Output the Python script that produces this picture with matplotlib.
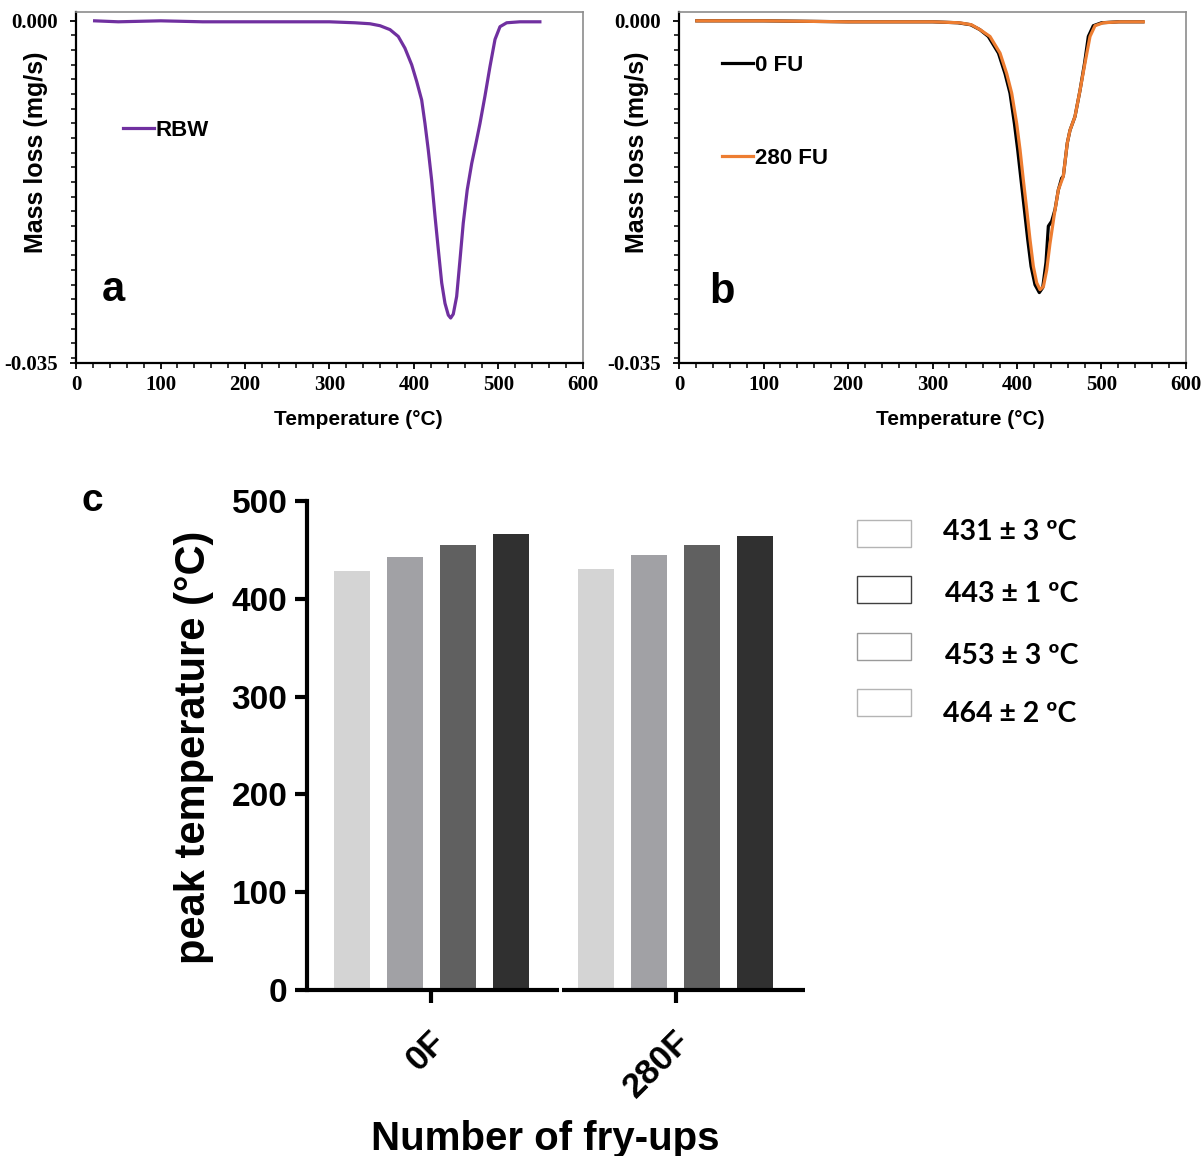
import matplotlib

matplotlib.use("Agg")
import matplotlib.pyplot as plt
import matplotlib.transforms as mtransforms
import numpy as np
from matplotlib.patches import Rectangle
from matplotlib.ticker import MultipleLocator, FixedLocator


SANS = "Liberation Sans"
SERIF = "Liberation Serif"

# panel a: derivative mass loss of RBW (mg/s) against temperature (C)
RBW_TEMP = [22, 50, 100, 150, 200, 250, 300, 330, 347.9, 359.8, 371.6, 381.4, 389.3,
            397.3, 403.2, 409.1, 413, 416.9, 420.9, 424.9, 428.8, 432.8, 436.7, 440.6,
            443.4, 446.5, 450.5, 454.4, 458.3, 463, 468.3, 473.4, 478.1, 484, 489.9,
            495.9, 501.8, 509.7, 525.4, 549]
RBW_LOSS = [0.0000, -0.0001, 0.0000, -0.0001, -0.0001, -0.0001, -0.0001, -0.0002,
            -0.0003, -0.0005, -0.0009, -0.0016, -0.0028, -0.0045, -0.0062, -0.0081,
            -0.0105, -0.0132, -0.0163, -0.0200, -0.0234, -0.0268, -0.0289, -0.0301,
            -0.0304, -0.0300, -0.0282, -0.0245, -0.0207, -0.0173, -0.0146, -0.0125,
            -0.0105, -0.0077, -0.0047, -0.0019, -0.0006, -0.0002, -0.0001, -0.0001]

# panel b: 0 FU and 280 FU
FU0_TEMP = [21, 100, 200, 300, 330, 345, 356, 366, 378, 385.8, 391.7, 396.9, 400.8,
            404.8, 408.7, 412.7, 416.6, 421.3, 426.4, 430.4, 434.3, 437.1, 441, 445,
            448.9, 452.8, 454.8, 459.5, 462.7, 468.6, 474.6, 480, 484.4, 490.3, 500,
            520, 549]
FU0_LOSS = [0.0000, 0.0000, -0.0001, -0.0001, -0.0002, -0.0004, -0.0009, -0.0016,
            -0.0033, -0.0054, -0.0074, -0.0105, -0.0132, -0.0163, -0.0193, -0.0224,
            -0.0251, -0.0270, -0.0278, -0.0273, -0.0247, -0.0210, -0.0205, -0.0193,
            -0.0173, -0.0161, -0.0159, -0.0125, -0.0112, -0.0098, -0.0071, -0.0043,
            -0.0016, -0.0005, -0.0002, -0.0001, -0.0001]
FU280_TEMP = [21, 100, 200, 300, 332, 346, 356.2, 368, 379.9, 387.8, 393.7, 399.6,
              403.6, 407.5, 411.5, 415.4, 419.3, 423.3, 427.2, 431.2, 435.1, 439,
              443.8, 448.9, 454.8, 459.5, 462.7, 468.6, 474.6, 480.5, 486.4, 492.3,
              502.1, 521.9, 549.5]
FU280_LOSS = [0.0000, 0.0000, -0.0001, -0.0001, -0.0002, -0.0004, -0.0009, -0.0016,
              -0.0033, -0.0054, -0.0074, -0.0105, -0.0132, -0.0163, -0.0193, -0.0224,
              -0.0251, -0.0268, -0.0275, -0.0272, -0.0255, -0.0228, -0.0200, -0.0173,
              -0.0159, -0.0125, -0.0112, -0.0098, -0.0071, -0.0043, -0.0016, -0.0005,
              -0.0002, -0.0001, -0.0001]

# panel c: peak temperatures
FRY_GROUPS = ["0F", "280F"]
PEAK_0F = [428, 443, 455, 466]
PEAK_280F = [430, 445, 455, 464]
PEAK_LABELS = ["431 ± 3 ºC", "443 ± 1 ºC", "453 ± 3 ºC", "464 ± 2 ºC"]
BAR_COLORS = ["#d4d4d4", "#a1a1a5", "#606060", "#303030"]
BOX_EDGES = ["#b4b4b4", "#404040", "#9a9a9a", "#b4b4b4"]


def _style_tga(ax):
    ax.set_xlim(0, 600)
    ax.set_ylim(-0.035, 0.0009)
    ax.xaxis.set_major_locator(MultipleLocator(100))
    ax.xaxis.set_minor_locator(MultipleLocator(20))
    ax.yaxis.set_major_locator(FixedLocator([-0.035, 0.0]))
    ax.yaxis.set_minor_locator(FixedLocator(np.arange(0, -0.0351, -0.0015)))
    ax.yaxis.set_major_formatter(plt.FuncFormatter(lambda v, p: f"{v:.3f}"))
    for side in ("left", "bottom"):
        ax.spines[side].set_linewidth(1.6)
        ax.spines[side].set_color("black")
    for side in ("top", "right"):
        ax.spines[side].set_linewidth(1.2)
        ax.spines[side].set_color("#8c8c8c")
    ax.tick_params(which="major", direction="out", length=4, width=1.3, pad=5)
    ax.tick_params(axis="y", which="major", pad=9)
    ax.tick_params(which="minor", direction="out", length=3.5, width=1.1)
    for lab in ax.get_xticklabels() + ax.get_yticklabels():
        lab.set_fontfamily(SERIF)
        lab.set_fontweight("bold")
        lab.set_fontsize(15)
    ax.set_xlabel("Temperature (°C)", fontfamily=SANS, fontweight="bold", fontsize=15)
    ax.set_ylabel("Mass loss (mg/s)", fontfamily=SANS, fontweight="bold", fontsize=18)


def main() -> int:
    fig = plt.figure(figsize=(12.01, 11.56), dpi=100)
    legend_font = {"family": SANS, "weight": "bold", "size": 16}

    ax_a = fig.add_axes([0.0633, 0.686, 0.4221, 0.3036])
    ax_a.plot(RBW_TEMP, RBW_LOSS, color="#7030a0", lw=2.3, label="RBW",
              solid_joinstyle="round")
    _style_tga(ax_a)
    ax_a.xaxis.set_label_coords(0.557, -0.134)
    ax_a.yaxis.set_label_coords(-0.055, 0.6)
    ax_a.legend(loc="upper left", bbox_to_anchor=(0.07, 0.725), frameon=False,
                borderpad=0, handlelength=1.4, handletextpad=0.1, prop=legend_font)
    ax_a.text(0.073, 0.208, "a", transform=ax_a.transAxes, fontfamily=SANS,
              fontweight="bold", fontsize=30, ha="center", va="center")

    ax_b = fig.add_axes([0.5654, 0.686, 0.4221, 0.3036])
    ax_b.plot(FU0_TEMP, FU0_LOSS, color="black", lw=2.3, label="0 FU",
              solid_joinstyle="round")
    ax_b.plot(FU280_TEMP, FU280_LOSS, color="#ed7d31", lw=2.3, label="280 FU",
              solid_joinstyle="round")
    _style_tga(ax_b)
    ax_b.xaxis.set_label_coords(0.555, -0.134)
    ax_b.yaxis.set_label_coords(-0.059, 0.6)
    ax_b.legend(loc="upper left", bbox_to_anchor=(0.063, 0.91), frameon=False,
                borderpad=0, handlelength=1.4, handletextpad=0.1, labelspacing=3.25,
                prop=legend_font)
    ax_b.text(0.085, 0.202, "b", transform=ax_b.transAxes, fontfamily=SANS,
              fontweight="bold", fontsize=30, ha="center", va="center")

    # panel c
    ax_c = fig.add_axes([0.2556, 0.1436, 0.4147, 0.4230])
    step = 0.2168
    width = 0.147
    groups = np.arange(len(FRY_GROUPS))
    for i, vals in enumerate(zip(PEAK_0F, PEAK_280F)):
        ax_c.bar(groups + (i - 1.5) * step, vals, width=width, color=BAR_COLORS[i],
                 edgecolor="none")
    ax_c.set_xlim(-0.509, 1.528)
    ax_c.set_ylim(0, 500)
    ax_c.yaxis.set_major_locator(MultipleLocator(100))
    for side in ("top", "right", "bottom"):
        ax_c.spines[side].set_visible(False)
    ax_c.spines["left"].set_linewidth(3.0)
    # prism-style broken baseline between the two groups
    ax_c.plot([-0.509, 0.522], [0, 0], color="black", lw=3.0, clip_on=False,
              solid_capstyle="butt")
    ax_c.plot([0.534, 1.528], [0, 0], color="black", lw=3.0, clip_on=False,
              solid_capstyle="butt")
    ax_c.set_xticks(groups)
    ax_c.set_xticklabels(FRY_GROUPS, rotation=45, ha="right", va="center",
                         rotation_mode="anchor")
    ax_c.tick_params(axis="both", direction="out", length=9, width=3.0, pad=5,
                     labelsize=24)
    shift = mtransforms.ScaledTranslation(0.09, -0.27, fig.dpi_scale_trans)
    for lab in ax_c.get_xticklabels():
        lab.set_transform(lab.get_transform() + shift)
        lab.set_fontsize(25)
    for lab in ax_c.get_xticklabels() + ax_c.get_yticklabels():
        lab.set_fontfamily(SANS)
        lab.set_fontweight("bold")
    ax_c.set_ylabel("peak temperature (°C)", fontfamily=SANS, fontweight="bold",
                    fontsize=30)
    ax_c.yaxis.set_label_coords(-0.187, 0.497)
    ax_c.set_xlabel("Number of fry-ups", fontfamily=SANS, fontweight="bold",
                    fontsize=29)
    ax_c.xaxis.set_label_coords(0.478, -0.266)
    fig.text(0.0766, 0.567, "c", fontfamily=SANS, fontweight="bold", fontsize=28,
             ha="center", va="center")

    # legend boxes, drawn by hand to keep the uneven spacing of the original
    text_y = [532, 594, 656, 714]
    text_x = [943, 945, 945, 943]
    for i, label in enumerate(PEAK_LABELS):
        top = 520 + i * 56.3
        fig.add_artist(Rectangle((857 / 1201, 1 - (top + 27) / 1156), 54 / 1201,
                                 27 / 1156, transform=fig.transFigure,
                                 facecolor="white", edgecolor=BOX_EDGES[i], lw=1.0))
        fig.text(text_x[i] / 1201, 1 - text_y[i] / 1156, label, fontfamily="Lato",
                 fontweight="bold", fontsize=20.5, ha="left", va="center")

    fig.savefig("out.png", dpi=100)
    plt.close(fig)
    return 0


if __name__ == "__main__":
    raise SystemExit(main())
